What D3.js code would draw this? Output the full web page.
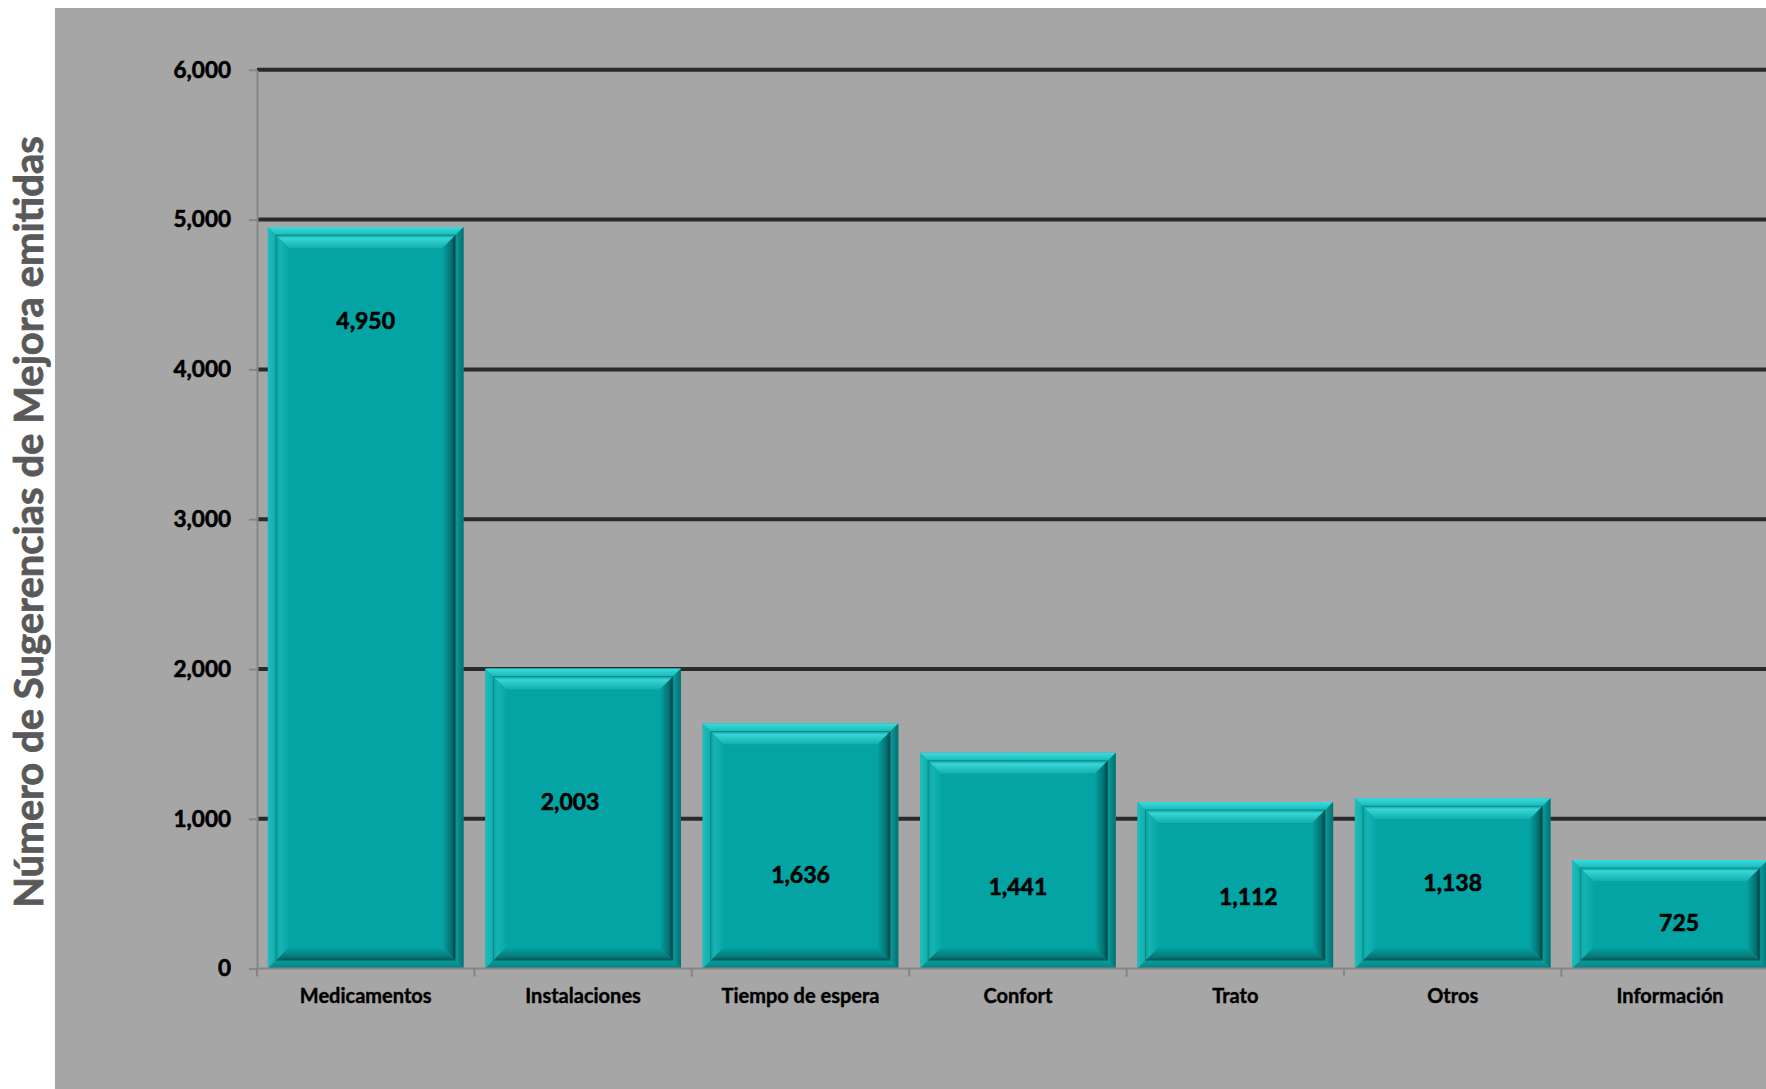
<!DOCTYPE html>
<html>
<head>
<meta charset="utf-8">
<script src="https://cdn.jsdelivr.net/npm/d3@7"></script>
<style>
  html, body { margin: 0; padding: 0; background: #ffffff; }
  svg { display: block; }
  text { font-family: Lato, "Open Sans", sans-serif; font-weight: bold; }
</style>
</head>
<body>
<svg id="chart" width="1766" height="1089"></svg>
<script>
// ---- data ----
const categories = ["Medicamentos", "Instalaciones", "Tiempo de espera", "Confort", "Trato", "Otros", "Información"];
const values = [4950, 2003, 1636, 1441, 1112, 1138, 725];
const yTicks = [0, 1000, 2000, 3000, 4000, 5000, 6000];
const yTitle = "Número de Sugerencias de Mejora emitidas";
// where each value label sits (in data units, as placed in the original)
const labelLevel = [4330, 1119, 632, 549, 482, 579, 311];
const labelShift = [0, -13, 0, 0, 13, 0, 9];

// ---- layout ----
const W = 1766, H = 1089;
const plotLeft = 257, plotTop = 69.8, plotBottom = 968.6;
const step = 217.4;

const svg = d3.select("#chart");
const defs = svg.append("defs");

// background panel
svg.append("rect").attr("x", 55).attr("y", 8).attr("width", W - 55).attr("height", H - 8).attr("fill", "#a6a6a6");

const y = d3.scaleLinear().domain([0, 6000]).range([plotBottom, plotTop]);
const x = d3.scaleBand().domain(categories)
  .range([plotLeft, plotLeft + categories.length * step])
  .paddingInner(0.1).paddingOuter(0.05);

// gridlines
svg.append("g").selectAll("line").data(yTicks.filter(d => d > 0)).join("line")
  .attr("x1", plotLeft).attr("x2", W)
  .attr("y1", d => y(d)).attr("y2", d => y(d))
  .attr("stroke", "#2a2a2a").attr("stroke-width", 4);

// gradients
function grad(id, x1, y1, x2, y2, stops) {
  const g = defs.append("linearGradient").attr("id", id)
    .attr("x1", x1).attr("y1", y1).attr("x2", x2).attr("y2", y2);
  stops.forEach(s => g.append("stop").attr("offset", s[0]).attr("stop-color", s[1]));
}
grad("rimTop", 0, 0, 0, 1, [[0, "#38dcdc"], [1, "#1ab9b9"]]);
grad("rimRight", 0, 0, 1, 0, [[0, "#0a9c9c"], [1, "#066f6f"]]);
grad("rimBottom", 0, 0, 0, 1, [[0, "#0a9d9d"], [1, "#077f7f"]]);
grad("rimLeft", 0, 0, 1, 0, [[0, "#1fbdbd"], [1, "#11adad"]]);
grad("inTop", 0, 0, 0, 1, [[0, "#109e9e"], [0.25, "#36d6d6"], [1, "#13aeae"]]);
grad("inLeft", 0, 0, 1, 0, [[0, "#0e9e9e"], [0.3, "#15b3b3"], [1, "#08a6a6"]]);
grad("inRight", 0, 0, 1, 0, [[0, "#05a2a2"], [0.7, "#047070"], [1, "#033c3c"]]);
grad("inBottom", 0, 0, 0, 1, [[0, "#05a2a2"], [0.7, "#067a7a"], [1, "#045050"]]);

// bars
const bars = svg.append("g").selectAll("g").data(categories).join("g");
bars.each(function(c, i) {
  const g = d3.select(this);
  const bx = x(c), bw = x.bandwidth();
  const by = y(values[i]), bh = y(0) - by;
  const r = 8, d = 13;
  const poly = (pts, fill) => g.append("polygon").attr("points", pts.map(p => p.join(",")).join(" ")).attr("fill", fill);
  g.append("rect").attr("x", bx).attr("y", by).attr("width", bw).attr("height", bh).attr("fill", "#0aa7a7");
  // outer rim
  poly([[bx, by], [bx + bw, by], [bx + bw - r, by + r], [bx + r, by + r]], "url(#rimTop)");
  poly([[bx, by], [bx + r, by + r], [bx + r, by + bh - r], [bx, by + bh]], "url(#rimLeft)");
  poly([[bx + bw, by], [bx + bw, by + bh], [bx + bw - r, by + bh - r], [bx + bw - r, by + r]], "url(#rimRight)");
  poly([[bx, by + bh], [bx + bw, by + bh], [bx + bw - r, by + bh - r], [bx + r, by + bh - r]], "url(#rimBottom)");
  // inner bevel
  const ix = bx + r, iy = by + r, iw = bw - 2 * r, ih = bh - 2 * r;
  poly([[ix, iy], [ix + iw, iy], [ix + iw - d, iy + d], [ix + d, iy + d]], "url(#inTop)");
  poly([[ix, iy], [ix + d, iy + d], [ix + d, iy + ih - d], [ix, iy + ih]], "url(#inLeft)");
  poly([[ix + iw, iy], [ix + iw, iy + ih], [ix + iw - d, iy + ih - d], [ix + iw - d, iy + d]], "url(#inRight)");
  poly([[ix, iy + ih], [ix + iw, iy + ih], [ix + iw - d, iy + ih - d], [ix + d, iy + ih - d]], "url(#inBottom)");
  g.append("rect").attr("x", ix + d).attr("y", iy + d).attr("width", iw - 2 * d).attr("height", ih - 2 * d).attr("fill", "#05a4a4");
  g.append("rect").attr("x", ix).attr("y", iy).attr("width", iw).attr("height", ih)
    .attr("fill", "none").attr("stroke", "#077676").attr("stroke-width", 1).attr("stroke-opacity", 0.6);
});

// value labels
svg.append("g").selectAll("text").data(categories).join("text")
  .attr("x", (c, i) => x(c) + x.bandwidth() / 2 + labelShift[i])
  .attr("y", (c, i) => y(labelLevel[i]))
  .attr("text-anchor", "middle").attr("dominant-baseline", "central")
  .attr("font-size", 23).attr("fill", "#000")
  .attr("stroke", "#000").attr("stroke-width", 0.6)
  .text((c, i) => d3.format(",")(values[i]));

// y axis
const yAxisG = svg.append("g").attr("transform", `translate(${plotLeft},0)`)
  .call(d3.axisLeft(y).tickValues(yTicks).tickFormat(d3.format(",")).tickSize(8).tickSizeOuter(0).tickPadding(18));
yAxisG.select(".domain").attr("stroke", "#858585").attr("stroke-width", 2);
yAxisG.selectAll(".tick line").attr("stroke", "#858585").attr("stroke-width", 2);
yAxisG.selectAll(".tick text").attr("font-size", 22.5).attr("fill", "#000").attr("font-family", null)
  .attr("stroke", "#000").attr("stroke-width", 0.6);

// x axis line and ticks
const xAxisG = svg.append("g").attr("transform", `translate(0,${plotBottom})`);
xAxisG.append("line").attr("x1", plotLeft).attr("x2", W).attr("y1", 0).attr("y2", 0)
  .attr("stroke", "#858585").attr("stroke-width", 2);
xAxisG.selectAll("line.tk").data(d3.range(categories.length + 1)).join("line").attr("class", "tk")
  .attr("x1", i => plotLeft + i * x.step()).attr("x2", i => plotLeft + i * x.step())
  .attr("y1", 0).attr("y2", 8).attr("stroke", "#858585").attr("stroke-width", 2);
xAxisG.selectAll("text").data(categories).join("text")
  .attr("x", c => x(c) + x.bandwidth() / 2).attr("y", 26)
  .attr("text-anchor", "middle").attr("dominant-baseline", "central")
  .attr("font-size", 20).attr("fill", "#000")
  .attr("stroke", "#000").attr("stroke-width", 0.4)
  .text(c => c);

// y title
svg.append("text").attr("transform", "translate(28,522) rotate(-90)")
  .attr("text-anchor", "middle").attr("dominant-baseline", "central")
  .attr("font-size", 40).attr("fill", "#595959")
  .attr("stroke", "#595959").attr("stroke-width", 0.8)
  .text(yTitle);
</script>
</body>
</html>
